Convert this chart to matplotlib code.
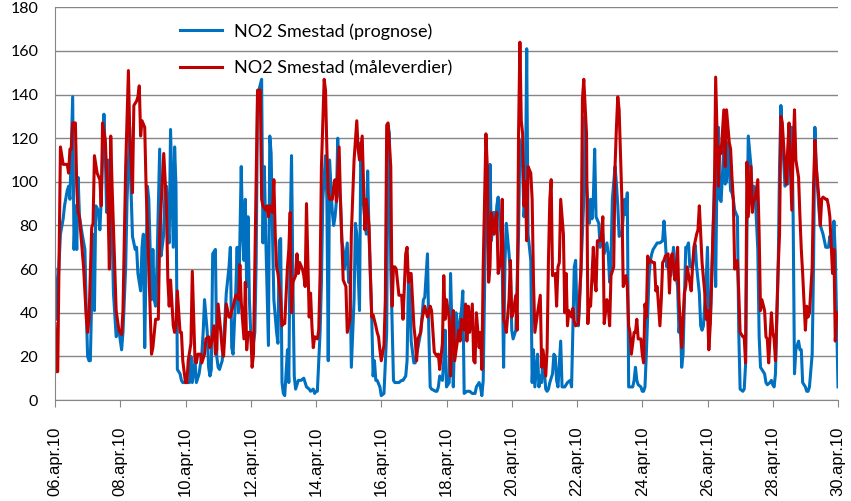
import matplotlib
matplotlib.use("Agg")
import matplotlib.pyplot as plt

# timer fra 06.apr.10 00:00, verdier lest av figuren
prognose = [
    (0, 60), (1, 37), (2, 50), (4, 76), (6, 83), (7, 89), (9, 96), (10, 98), (11, 92), (12, 115),
    (13, 139), (14, 69), (15, 89), (16, 69), (17, 102), (18, 84), (20, 76), (22, 69), (23, 41), (24, 20),
    (25, 18), (26, 18), (28, 76), (29, 41), (30, 89), (31, 88), (32, 86), (33, 78), (34, 92), (36, 131),
    (37, 112), (38, 86), (39, 110), (40, 99), (42, 76), (43, 49), (45, 29), (47, 32), (49, 23), (50, 31),
    (52, 61), (53, 92), (55, 125), (56, 95), (57, 75), (59, 69), (60, 70), (61, 58), (63, 50), (64, 70),
    (65, 76), (66, 24), (67, 63), (68, 98), (69, 92), (70, 69), (71, 46), (72, 69), (73, 46), (74, 43),
    (75, 61), (77, 115), (78, 66), (80, 76), (81, 98), (82, 98), (83, 80), (84, 72), (85, 124), (87, 70),
    (88, 116), (89, 98), (90, 14), (92, 12), (93, 9), (94, 8), (96, 8), (99, 8), (100, 20), (101, 8),
    (103, 18), (104, 8), (106, 12), (108, 21), (109, 31), (110, 46), (112, 31), (113, 15), (114, 11), (115, 14),
    (116, 67), (118, 69), (119, 20), (120, 15), (121, 14), (123, 18), (124, 26), (125, 37), (126, 49), (128, 61),
    (129, 70), (130, 24), (131, 21), (133, 50), (134, 70), (135, 40), (136, 73), (137, 107), (138, 76), (139, 64),
    (140, 92), (141, 52), (142, 84), (143, 46), (144, 31), (145, 21), (147, 31), (148, 64), (149, 138), (150, 142),
    (152, 147), (153, 72), (154, 107), (155, 76), (157, 25), (158, 121), (159, 113), (160, 76), (161, 46), (163, 31),
    (164, 26), (165, 73), (166, 74), (167, 8), (168, 3), (169, 2), (171, 23), (172, 8), (173, 76), (174, 112),
    (175, 54), (176, 11), (177, 5), (179, 9), (181, 9), (183, 10), (185, 6), (187, 5), (188, 4), (190, 5),
    (191, 3), (192, 4), (193, 4), (195, 31), (196, 54), (197, 92), (199, 112), (200, 92), (201, 18), (202, 110),
    (204, 86), (205, 80), (206, 84), (207, 91), (208, 120), (209, 95), (210, 91), (211, 73), (212, 69), (213, 60),
    (215, 72), (216, 54), (217, 58), (218, 15), (220, 46), (221, 81), (222, 76), (224, 41), (225, 118), (226, 92),
    (227, 89), (229, 76), (230, 105), (231, 76), (233, 38), (234, 11), (235, 18), (236, 9), (237, 9), (239, 6),
    (240, 2), (242, 3), (244, 31), (245, 126), (246, 122), (247, 61), (249, 9), (250, 8), (253, 8), (255, 9),
    (256, 9), (258, 11), (259, 18), (260, 55), (261, 49), (262, 27), (264, 17), (265, 17), (266, 21), (267, 24),
    (269, 31), (270, 38), (271, 46), (272, 47), (274, 67), (275, 31), (276, 6), (277, 5), (280, 4), (281, 4),
    (282, 6), (283, 11), (285, 9), (286, 18), (287, 32), (288, 6), (290, 8), (291, 58), (292, 31), (293, 6),
    (294, 31), (295, 40), (296, 27), (297, 34), (299, 41), (300, 50), (301, 3), (303, 4), (305, 4), (307, 3),
    (309, 3), (310, 6), (312, 8), (313, 6), (314, 2), (315, 9), (317, 92), (318, 104), (319, 64), (320, 108),
    (321, 73), (323, 86), (324, 78), (325, 89), (326, 93), (328, 76), (329, 61), (330, 15), (331, 63), (332, 81),
    (334, 67), (335, 58), (336, 32), (337, 28), (339, 32), (340, 55), (341, 76), (342, 119), (344, 107), (345, 84),
    (346, 92), (347, 161), (348, 76), (350, 64), (351, 8), (352, 23), (353, 6), (355, 21), (356, 6), (357, 11),
    (358, 8), (359, 21), (361, 5), (362, 4), (363, 5), (364, 8), (366, 12), (367, 21), (368, 20), (369, 9),
    (370, 6), (372, 27), (373, 6), (375, 6), (377, 8), (379, 9), (380, 6), (382, 61), (383, 64), (384, 38),
    (385, 34), (386, 46), (388, 76), (389, 92), (390, 130), (391, 99), (393, 81), (394, 92), (395, 83), (396, 92),
    (397, 115), (398, 84), (400, 81), (401, 70), (402, 73), (403, 76), (404, 67), (406, 72), (407, 67), (408, 54),
    (409, 64), (410, 92), (412, 107), (413, 99), (414, 89), (415, 75), (417, 76), (418, 84), (419, 92), (420, 85),
    (421, 95), (422, 6), (423, 6), (425, 6), (426, 9), (427, 15), (428, 9), (429, 7), (431, 6), (432, 4),
    (433, 4), (434, 6), (435, 21), (437, 57), (438, 64), (439, 67), (440, 69), (442, 71), (443, 72), (444, 72),
    (445, 72), (447, 73), (448, 82), (449, 73), (450, 61), (451, 63), (453, 57), (454, 63), (455, 70), (456, 61),
    (458, 52), (459, 31), (460, 38), (461, 15), (462, 21), (464, 70), (465, 70), (466, 72), (467, 61), (469, 61),
    (470, 67), (471, 71), (472, 61), (474, 49), (475, 34), (476, 32), (477, 34), (479, 54), (480, 70), (481, 34),
    (482, 35), (483, 52), (485, 99), (486, 52), (487, 107), (488, 125), (489, 92), (490, 91), (492, 116), (493, 99),
    (494, 100), (495, 118), (497, 96), (498, 95), (499, 92), (500, 87), (502, 84), (503, 31), (504, 5), (506, 4),
    (507, 5), (508, 16), (509, 76), (510, 121), (512, 107), (513, 92), (514, 98), (515, 95), (517, 69), (518, 29),
    (519, 15), (520, 14), (522, 12), (523, 8), (524, 7), (526, 8), (527, 9), (528, 7), (529, 6), (530, 12),
    (532, 61), (533, 107), (534, 135), (535, 122), (537, 98), (538, 99), (539, 99), (540, 115), (542, 125), (543, 84),
    (544, 12), (545, 23), (547, 27), (548, 23), (549, 23), (550, 8), (552, 6), (553, 4), (554, 4), (555, 6),
    (557, 21), (558, 61), (559, 125), (560, 107), (562, 87), (563, 80), (564, 78), (565, 76), (567, 70), (568, 70),
    (569, 70), (570, 75), (572, 67), (573, 82), (574, 67), (576, 6),
]

maalt = [
    (0, 35), (1, 13), (2, 13), (4, 116), (6, 108), (7, 108), (9, 108), (10, 104), (11, 115), (12, 115),
    (13, 127), (15, 127), (16, 98), (17, 86), (18, 84), (21, 61), (23, 38), (24, 31), (25, 37), (27, 79),
    (28, 81), (29, 112), (31, 104), (33, 101), (34, 89), (35, 127), (37, 119), (39, 89), (40, 60), (41, 121),
    (42, 98), (44, 61), (45, 41), (47, 32), (49, 30), (50, 41), (52, 107), (54, 151), (55, 122), (57, 95),
    (58, 135), (60, 137), (61, 139), (62, 144), (63, 121), (64, 128), (66, 125), (67, 98), (69, 61), (71, 21),
    (72, 24), (74, 37), (76, 37), (77, 76), (79, 101), (80, 113), (82, 89), (83, 55), (84, 43), (85, 55),
    (87, 34), (88, 31), (89, 34), (90, 50), (92, 31), (93, 31), (94, 18), (96, 8), (97, 8), (98, 18),
    (100, 26), (101, 59), (103, 18), (104, 17), (105, 21), (107, 21), (108, 17), (110, 21), (111, 28), (113, 29),
    (114, 24), (115, 26), (117, 34), (118, 21), (119, 23), (120, 44), (122, 31), (123, 23), (124, 20), (125, 31),
    (126, 44), (128, 38), (129, 38), (130, 41), (131, 43), (133, 48), (134, 48), (135, 46), (136, 62), (137, 45),
    (139, 28), (140, 54), (141, 23), (142, 31), (144, 31), (145, 15), (146, 21), (147, 61), (149, 142), (151, 142),
    (152, 92), (153, 89), (155, 87), (156, 89), (157, 84), (158, 89), (160, 86), (161, 101), (162, 76), (163, 61),
    (164, 58), (166, 46), (167, 34), (168, 35), (169, 35), (171, 61), (172, 69), (173, 86), (174, 40), (175, 54),
    (177, 57), (178, 67), (179, 58), (180, 63), (182, 60), (183, 57), (184, 52), (185, 90), (187, 38), (188, 49),
    (189, 34), (190, 24), (191, 29), (193, 28), (194, 32), (195, 57), (196, 107), (198, 147), (199, 142), (200, 115),
    (201, 95), (202, 92), (204, 92), (205, 98), (206, 101), (207, 91), (209, 116), (210, 92), (211, 73), (212, 55),
    (214, 52), (215, 31), (217, 37), (218, 76), (220, 110), (222, 128), (223, 115), (224, 110), (226, 121), (227, 98),
    (228, 78), (229, 92), (231, 80), (232, 58), (233, 38), (234, 39), (236, 34), (237, 31), (238, 29), (239, 23),
    (240, 18), (242, 25), (243, 46), (244, 126), (245, 127), (247, 107), (248, 43), (249, 61), (250, 61), (251, 60),
    (253, 48), (254, 48), (255, 48), (256, 37), (258, 67), (259, 70), (260, 54), (261, 58), (262, 58), (264, 34),
    (265, 28), (266, 18), (267, 28), (269, 31), (270, 37), (271, 40), (272, 43), (274, 38), (275, 40), (276, 43),
    (277, 41), (279, 22), (280, 21), (281, 20), (282, 21), (283, 14), (285, 26), (286, 57), (287, 37), (288, 46),
    (290, 37), (291, 11), (292, 31), (293, 41), (294, 18), (296, 27), (297, 32), (298, 27), (299, 37), (301, 32),
    (302, 44), (303, 27), (304, 43), (305, 31), (307, 44), (308, 18), (309, 17), (310, 40), (312, 24), (313, 31),
    (314, 14), (315, 61), (317, 122), (318, 107), (319, 54), (320, 61), (321, 86), (323, 76), (324, 83), (325, 86),
    (326, 58), (328, 64), (329, 92), (330, 37), (331, 35), (332, 31), (334, 46), (335, 64), (336, 38), (337, 40),
    (339, 48), (340, 32), (341, 122), (342, 164), (343, 128), (344, 122), (345, 89), (346, 100), (347, 73), (348, 107),
    (350, 104), (351, 92), (352, 54), (353, 31), (355, 40), (356, 44), (357, 48), (358, 15), (359, 23), (361, 11),
    (362, 23), (363, 64), (364, 92), (365, 101), (366, 57), (368, 58), (369, 43), (370, 61), (371, 63), (372, 92),
    (374, 76), (375, 40), (376, 58), (377, 34), (378, 41), (380, 38), (381, 42), (382, 36), (383, 34), (385, 35),
    (386, 49), (387, 61), (388, 138), (389, 147), (391, 122), (392, 35), (393, 46), (394, 43), (396, 70), (397, 55),
    (398, 50), (399, 73), (401, 73), (402, 76), (403, 84), (404, 35), (406, 46), (407, 43), (408, 34), (409, 57),
    (411, 61), (412, 107), (413, 125), (414, 139), (415, 133), (417, 92), (418, 52), (420, 57), (421, 52), (422, 34),
    (423, 31), (424, 21), (426, 31), (427, 31), (428, 37), (429, 28), (431, 28), (432, 21), (433, 17), (434, 44),
    (435, 38), (436, 66), (437, 63), (438, 64), (440, 63), (441, 63), (442, 50), (443, 52), (445, 34), (446, 46),
    (447, 63), (448, 64), (449, 66), (451, 67), (452, 49), (453, 64), (454, 67), (456, 55), (457, 61), (458, 70),
    (459, 46), (461, 24), (462, 37), (463, 49), (464, 52), (465, 61), (467, 54), (468, 50), (469, 61), (470, 70),
    (472, 76), (473, 78), (474, 89), (475, 76), (476, 63), (478, 49), (479, 37), (480, 41), (481, 23), (482, 34),
    (484, 76), (485, 92), (486, 148), (487, 122), (488, 98), (489, 116), (490, 113), (492, 133), (493, 107), (494, 133),
    (496, 118), (497, 115), (498, 102), (499, 92), (500, 60), (502, 64), (503, 49), (504, 31), (506, 29), (507, 29),
    (508, 17), (509, 109), (510, 84), (512, 107), (513, 86), (514, 92), (515, 92), (517, 101), (518, 76), (519, 41),
    (520, 46), (522, 41), (523, 29), (524, 28), (525, 17), (527, 40), (528, 31), (529, 28), (530, 18), (532, 61),
    (533, 76), (534, 130), (535, 127), (537, 107), (538, 99), (539, 115), (540, 127), (542, 87), (543, 115), (544, 133),
    (545, 110), (547, 102), (548, 84), (549, 69), (550, 58), (552, 32), (553, 43), (554, 38), (555, 40), (557, 61),
    (558, 98), (559, 119), (560, 107), (562, 92), (563, 80), (564, 92), (565, 93), (567, 92), (568, 92), (569, 89),
    (570, 84), (572, 58), (573, 69), (574, 27), (575, 40),
]

tick_labels = ["06.apr.10", "08.apr.10", "10.apr.10", "12.apr.10", "14.apr.10", "16.apr.10", "18.apr.10",
               "20.apr.10", "22.apr.10", "24.apr.10", "26.apr.10", "28.apr.10", "30.apr.10"]
y_ticks = [0, 20, 40, 60, 80, 100, 120, 140, 160, 180]

navn_prognose = "NO2 Smestad (prognose)"
navn_maalt = "NO2 Smestad (måleverdier)"

fig = plt.figure(figsize=(8.51, 5.01), dpi=100)
ax = fig.add_axes([55 / 851, 101 / 501, 783 / 851, 392.7 / 501])

t1, v1 = zip(*sorted(prognose))
t2, v2 = zip(*sorted(maalt))
ax.plot(t1, v1, color="#0070C0", lw=2.2, label=navn_prognose, solid_joinstyle="round")
ax.plot(t2, v2, color="#C00000", lw=2.2, label=navn_maalt, solid_joinstyle="round")

ax.set_xlim(0, 576)
ax.set_ylim(0, 180)
ax.set_xticks(range(0, 577, 48))
ax.set_xticklabels(tick_labels, rotation=90, fontsize=12, family="Liberation Sans")
ax.set_yticks(y_ticks)
ax.set_yticklabels([str(v) for v in y_ticks], fontsize=11.5, family="Lato")

ax.grid(axis="y", color="#868686", lw=1)
ax.set_axisbelow(True)
for s in ["top", "right"]:
    ax.spines[s].set_visible(False)
for s in ["left", "bottom"]:
    ax.spines[s].set_color("#868686")
ax.tick_params(axis="x", length=5, color="#868686", pad=14)
ax.tick_params(axis="y", length=0, pad=12)

leg = fig.legend(loc="upper left", bbox_to_anchor=(171 / 851, 1 - 14 / 501), frameon=False, borderpad=0,
                 prop={"family": "Lato", "size": 13}, handlelength=2.3, labelspacing=1.15, handletextpad=0.7)

fig.savefig("out.png", dpi=100)
